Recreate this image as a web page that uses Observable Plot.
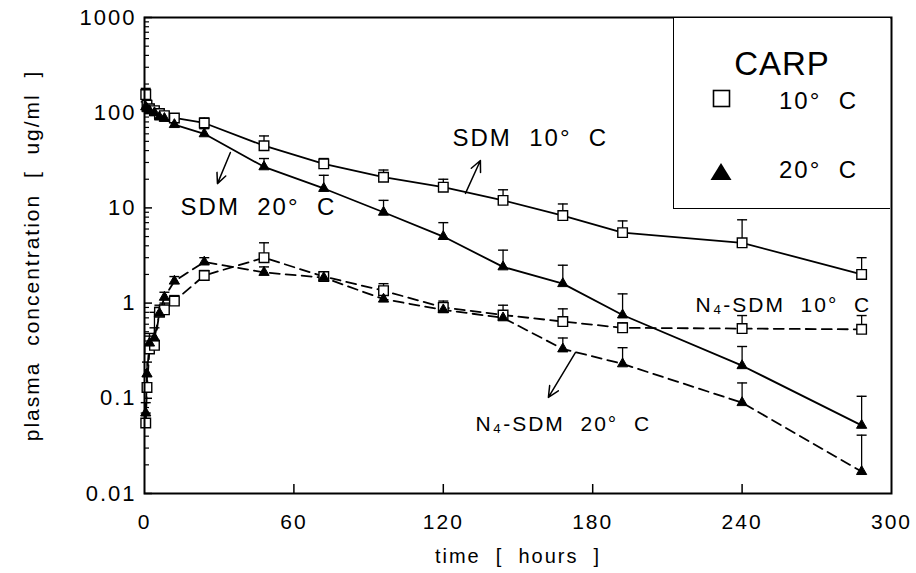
<!DOCTYPE html>
<html><head><meta charset="utf-8">
<script src="https://cdn.jsdelivr.net/npm/d3@7"></script>
<script src="https://cdn.jsdelivr.net/npm/@observablehq/plot@0.6"></script>
<style>
body{margin:0;background:#fff;}
#wrap{position:relative;width:916px;height:573px;font-family:"Liberation Sans",Arial,sans-serif;color:#000;}
#wrap svg text{letter-spacing:2px;}
#legend{position:absolute;left:673px;top:18px;width:217px;height:191px;border-left:1.6px solid #000;border-bottom:1.6px solid #000;background:#fff;box-sizing:border-box;}
#legend .t{position:absolute;white-space:pre;line-height:1;}
</style></head><body><div id="wrap"></div>
<script>
// sampling times (hours)
const times = [0.5, 1, 2, 4, 6, 8, 12, 24, 48, 72, 96, 120, 144, 168, 192, 240, 288];
// SDM, 10 °C (open squares, solid line)
const sdm10   = [155, 120, 110, 105, 98, 93, 88, 78, 45, 29, 21, 16.5, 12, 8.3, 5.5, 4.3, 2.0];
const sdm10Up = [180, 135, 122, 115, 108, 102, 96, 88, 57, 33, 25, 20, 15.5, 11, 7.3, 7.5, 3.0];
// SDM, 20 °C (filled triangles, solid line)
const sdm20   = [115, 110, 105, 100, 90, 87, 75, 60, 27, 16, 9, 5, 2.4, 1.6, 0.75, 0.22, 0.052];
const sdm20Up = [130, 120, 115, 110, 100, 96, 85, 68, 33, 22, 12, 7, 3.6, 2.5, 1.25, 0.35, 0.105];
// N4-SDM, 10 °C (open squares, dashed line)
const n4sdm10   = [0.055, 0.13, 0.33, 0.36, 0.8, 0.85, 1.05, 1.95, 3.0, 1.9, 1.35, 0.9, 0.75, 0.64, 0.55, 0.54, 0.53];
const n4sdm10Up = [0.07, 0.17, 0.45, 0.8, 0.95, 1.0, 1.2, 2.2, 4.3, 2.1, 1.6, 1.05, 0.95, 0.87, 0.62, 0.74, 0.74];
// N4-SDM, 20 °C (filled triangles, dashed line)
const n4sdm20   = [0.07, 0.18, 0.38, 0.43, 0.78, 1.15, 1.7, 2.7, 2.1, 1.85, 1.1, 0.85, 0.7, 0.33, 0.23, 0.09, 0.017];
const n4sdm20Up = [0.09, 0.24, 0.48, 0.55, 0.9, 1.3, 1.9, 3.0, 2.4, 2.0, 1.25, 1.0, 0.8, 0.43, 0.34, 0.145, 0.041];

// axis ticks
const xTicks = [0, 60, 120, 180, 240, 300];
const yTicks = [0.01, 0.1, 1, 10, 100, 1000];
const yLabels = ["0.01", "0.1", "1", "10", "100", "1000"];

// curve annotations
const annotTexts = ["SDM  10°  C", "SDM  20°  C"];
const annotT = [123.7, 14.5];
const annotV = [53.6, 10.1];
const annotN4Texts = ["N\u2084-SDM  10°  C", "N\u2084-SDM  20°  C"];
const annotN4T = [221.3, 132.9];
const annotN4V = [0.944, 0.054];
// arrows: [t1, v1, t2, v2]
const arrowT1 = [128.9, 34.5, 173.1];
const arrowV1 = [14.2, 38.2, 0.303];
const arrowT2 = [134.9, 29.3, 162.2];
const arrowV2 = [31.5, 18, 0.102];

const legendTitle = "CARP";
const legendLabels = ["10°  C", "20°  C"];

const rows = (series, vals, ups) => times.map((t, i) => ({series, t, v: vals[i], up: ups[i]}));
const sq = [...rows("SDM 10", sdm10, sdm10Up), ...rows("N4 10", n4sdm10, n4sdm10Up)];
const tr = [...rows("SDM 20", sdm20, sdm20Up), ...rows("N4 20", n4sdm20, n4sdm20Up)];
const solid = [...rows("SDM 10", sdm10, sdm10Up), ...rows("SDM 20", sdm20, sdm20Up)];
const dashed = [...rows("N4 10", n4sdm10, n4sdm10Up), ...rows("N4 20", n4sdm20, n4sdm20Up)];
const all = [...sq, ...tr];

const minorY = [];
for (let e = -2; e < 3; e++) for (let k = 2; k <= 9; k++) minorY.push(k * Math.pow(10, e));

const cap = {draw(c) { c.moveTo(-5, 0); c.lineTo(5, 0); }};
const FONT = "'Liberation Sans', Arial, Helvetica, sans-serif";

const annots = annotTexts.map((s, i) => ({s, t: annotT[i], v: annotV[i]}));
const annotsN4 = annotN4Texts.map((s, i) => ({s, t: annotN4T[i], v: annotN4V[i]}));
const arrows = arrowT1.map((t, i) => ({t1: t, v1: arrowV1[i], t2: arrowT2[i], v2: arrowV2[i]}));
const yLabelOf = d => yLabels[yTicks.findIndex(v => Math.abs(v - d) < v * 1e-6)];

const chart = Plot.plot({
  width: 916, height: 573,
  marginLeft: 144, marginRight: 25, marginTop: 17, marginBottom: 80,
  x: {domain: [0, 300]},
  y: {type: "log", domain: [0.01, 1000]},
  style: {background: "white", color: "black", fontFamily: FONT},
  marks: [
    Plot.axisX({ticks: xTicks.slice(1, -1), tickSize: -9, fill: "none", label: null, strokeWidth: 1.5}),
    Plot.axisX({ticks: xTicks, tickSize: 0, tickPadding: 21, fontSize: 21, label: null, tickFormat: d => String(d)}),
    Plot.axisY({ticks: yTicks, tickSize: -8, fill: "none", label: null, strokeWidth: 1.5}),
    Plot.axisY({ticks: minorY, tickSize: -5, fill: "none", label: null, strokeWidth: 1.2}),
    Plot.axisY({ticks: yTicks, tickSize: 0, tickPadding: 8, fontSize: 22, label: null, tickFormat: yLabelOf}),
    Plot.text(["time  [  hours  ]"], {frameAnchor: "bottom", dy: 69, fontSize: 20, text: d => d}),
    Plot.text(["plasma  concentration  [  ug/ml  ]"], {frameAnchor: "left", textAnchor: "middle", lineAnchor: "middle", dx: -112, rotate: -90, fontSize: 21, text: d => d}),
    Plot.ruleX(all, {x: "t", y1: "v", y2: "up", strokeWidth: 1.3}),
    Plot.dot(all, {x: "t", y: "up", symbol: cap, stroke: "black", strokeWidth: 1.4}),
    Plot.line(solid, {x: "t", y: "v", z: "series", stroke: "black", strokeWidth: 1.8}),
    Plot.line(dashed, {x: "t", y: "v", z: "series", stroke: "black", strokeWidth: 1.8, strokeDasharray: "10,6"}),
    Plot.dot(sq, {x: "t", y: "v", symbol: "square", r: 5.4, fill: "white", stroke: "black", strokeWidth: 1.4}),
    Plot.dot(tr, {x: "t", y: "v", symbol: "triangle", r: 3.8, fill: "black", stroke: "black", strokeWidth: 1}),
    Plot.arrow(arrows, {x1: "t1", y1: "v1", x2: "t2", y2: "v2", headLength: 12, headAngle: 50, strokeWidth: 1.5, stroke: "black"}),
    Plot.text(annots, {x: "t", y: "v", text: "s", textAnchor: "start", fontSize: 24}),
    Plot.text(annotsN4, {x: "t", y: "v", text: "s", textAnchor: "start", fontSize: 21}),
    Plot.frame({strokeWidth: 2})
  ]
});
const wrap = document.getElementById("wrap");
wrap.appendChild(chart);

const lg = document.createElement("div");
lg.id = "legend";
lg.innerHTML = `
  <div class="t" style="left:0;width:100%;text-align:center;top:29px;font-size:33px;letter-spacing:1px;">${legendTitle}</div>
  <svg style="position:absolute;left:0;top:0" width="217" height="191">
    <rect x="39.5" y="72.5" width="16" height="16" fill="white" stroke="black" stroke-width="1.6"></rect>
    <path d="M47,145 L57.5,162 L36.5,162 Z" fill="black"></path>
  </svg>
  <div class="t" style="left:105px;top:71px;font-size:24px;letter-spacing:2px;">${legendLabels[0]}</div>
  <div class="t" style="left:105px;top:140px;font-size:24px;letter-spacing:2px;">${legendLabels[1]}</div>`;
wrap.appendChild(lg);
</script>
</body></html>
